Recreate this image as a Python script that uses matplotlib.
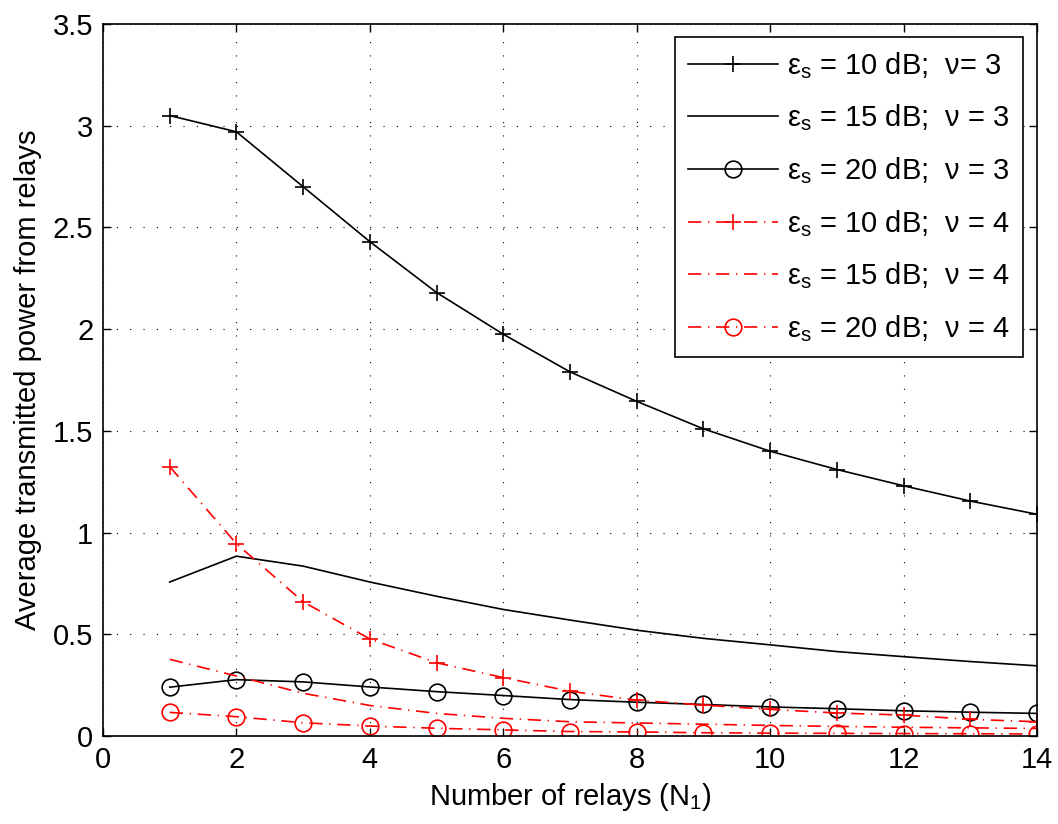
"""
Average transmitted power from relays vs number of relays.
Recreates the MATLAB-style figure, saves out.png.
"""
import matplotlib
matplotlib.use("Agg")
import matplotlib.pyplot as plt

plt.rcParams["font.family"] = ["Liberation Sans", "DejaVu Sans"]
plt.rcParams["mathtext.default"] = "regular"

relays = [1, 2, 3, 4, 5, 6, 7, 8, 9, 10, 11, 12, 13, 14]

# nu = 3
p10_nu3 = [3.05, 2.97, 2.70, 2.43, 2.18, 1.975, 1.79, 1.645, 1.51, 1.40, 1.31, 1.23, 1.155, 1.09]
p15_nu3 = [0.757, 0.884, 0.835, 0.757, 0.687, 0.622, 0.57, 0.52, 0.48, 0.448, 0.415, 0.39, 0.366, 0.345]
p20_nu3 = [0.24, 0.277, 0.266, 0.241, 0.218, 0.199, 0.179, 0.166, 0.155, 0.143, 0.134, 0.124, 0.117, 0.111]

# nu = 4
p10_nu4 = [1.324, 0.945, 0.66, 0.477, 0.36, 0.287, 0.22, 0.176, 0.152, 0.131, 0.113, 0.103, 0.082, 0.07]
p15_nu4 = [0.377, 0.295, 0.21, 0.15, 0.111, 0.087, 0.07, 0.064, 0.058, 0.052, 0.047, 0.043, 0.04, 0.037]
p20_nu4 = [0.116, 0.095, 0.065, 0.049, 0.038, 0.03, 0.022, 0.02, 0.016, 0.014, 0.013, 0.012, 0.011, 0.01]

labels = [
    "ε$_s$ = 10 dB;  ν= 3",
    "ε$_s$ = 15 dB;  ν = 3",
    "ε$_s$ = 20 dB;  ν = 3",
    "ε$_s$ = 10 dB;  ν = 4",
    "ε$_s$ = 15 dB;  ν = 4",
    "ε$_s$ = 20 dB;  ν = 4",
]

xticks = [0, 2, 4, 6, 8, 10, 12, 14]
yticks = [0, 0.5, 1, 1.5, 2, 2.5, 3, 3.5]

fig = plt.figure(figsize=(10.58, 8.24), dpi=100)
ax = fig.add_axes([103 / 1058, 1 - 736 / 824, (1037 - 103) / 1058, (736 - 24) / 824])

dashdot = (0, (8, 4, 0.8, 4))
lw = 1.2
ms = 12

ax.plot(relays, p10_nu3, color="black", lw=lw, marker="+", ms=ms, mew=1.2, label=labels[0])
ax.plot(relays, p15_nu3, color="black", lw=lw, label=labels[1])
ax.plot(relays, p20_nu3, color="black", lw=lw, marker="o", ms=ms, mfc="none", mew=1.2, label=labels[2])
ax.plot(relays, p10_nu4, color="red", lw=lw, ls=dashdot, marker="+", ms=ms, mew=1.2, label=labels[3])
ax.plot(relays, p15_nu4, color="red", lw=lw, ls=dashdot, label=labels[4])
ax.plot(relays, p20_nu4, color="red", lw=lw, ls=dashdot, marker="o", ms=ms, mfc="none", mew=1.2, label=labels[5])

ax.set_xlim(0, 14)
ax.set_ylim(0, 3.5)
ax.set_xticks(xticks)
ax.set_yticks(yticks)
ax.set_xticklabels([str(v) for v in xticks])
ax.set_yticklabels(["0", "0.5", "1", "1.5", "2", "2.5", "3", "3.5"])
ax.tick_params(direction="in", top=True, right=True, length=6, width=1, labelsize=21, pad=7)
for s in ax.spines.values():
    s.set_linewidth(1.2)

ax.grid(True, color="black", ls=(0, (1, 11)), lw=0.8)

ax.set_xlabel("Number of relays (N$_1$)", fontsize=21, labelpad=5)
ax.set_ylabel("Average transmitted power from relays", fontsize=21, labelpad=8)

leg = ax.legend(loc="upper right", fontsize=21, frameon=True, fancybox=False,
                edgecolor="black", framealpha=1, handlelength=3.1, labelspacing=0.75,
                borderpad=0.45, handletextpad=0.3, borderaxespad=0,
                bbox_to_anchor=(0.985, 0.982))
leg.get_frame().set_linewidth(1.2)

fig.savefig("out.png", dpi=100, facecolor="white")
